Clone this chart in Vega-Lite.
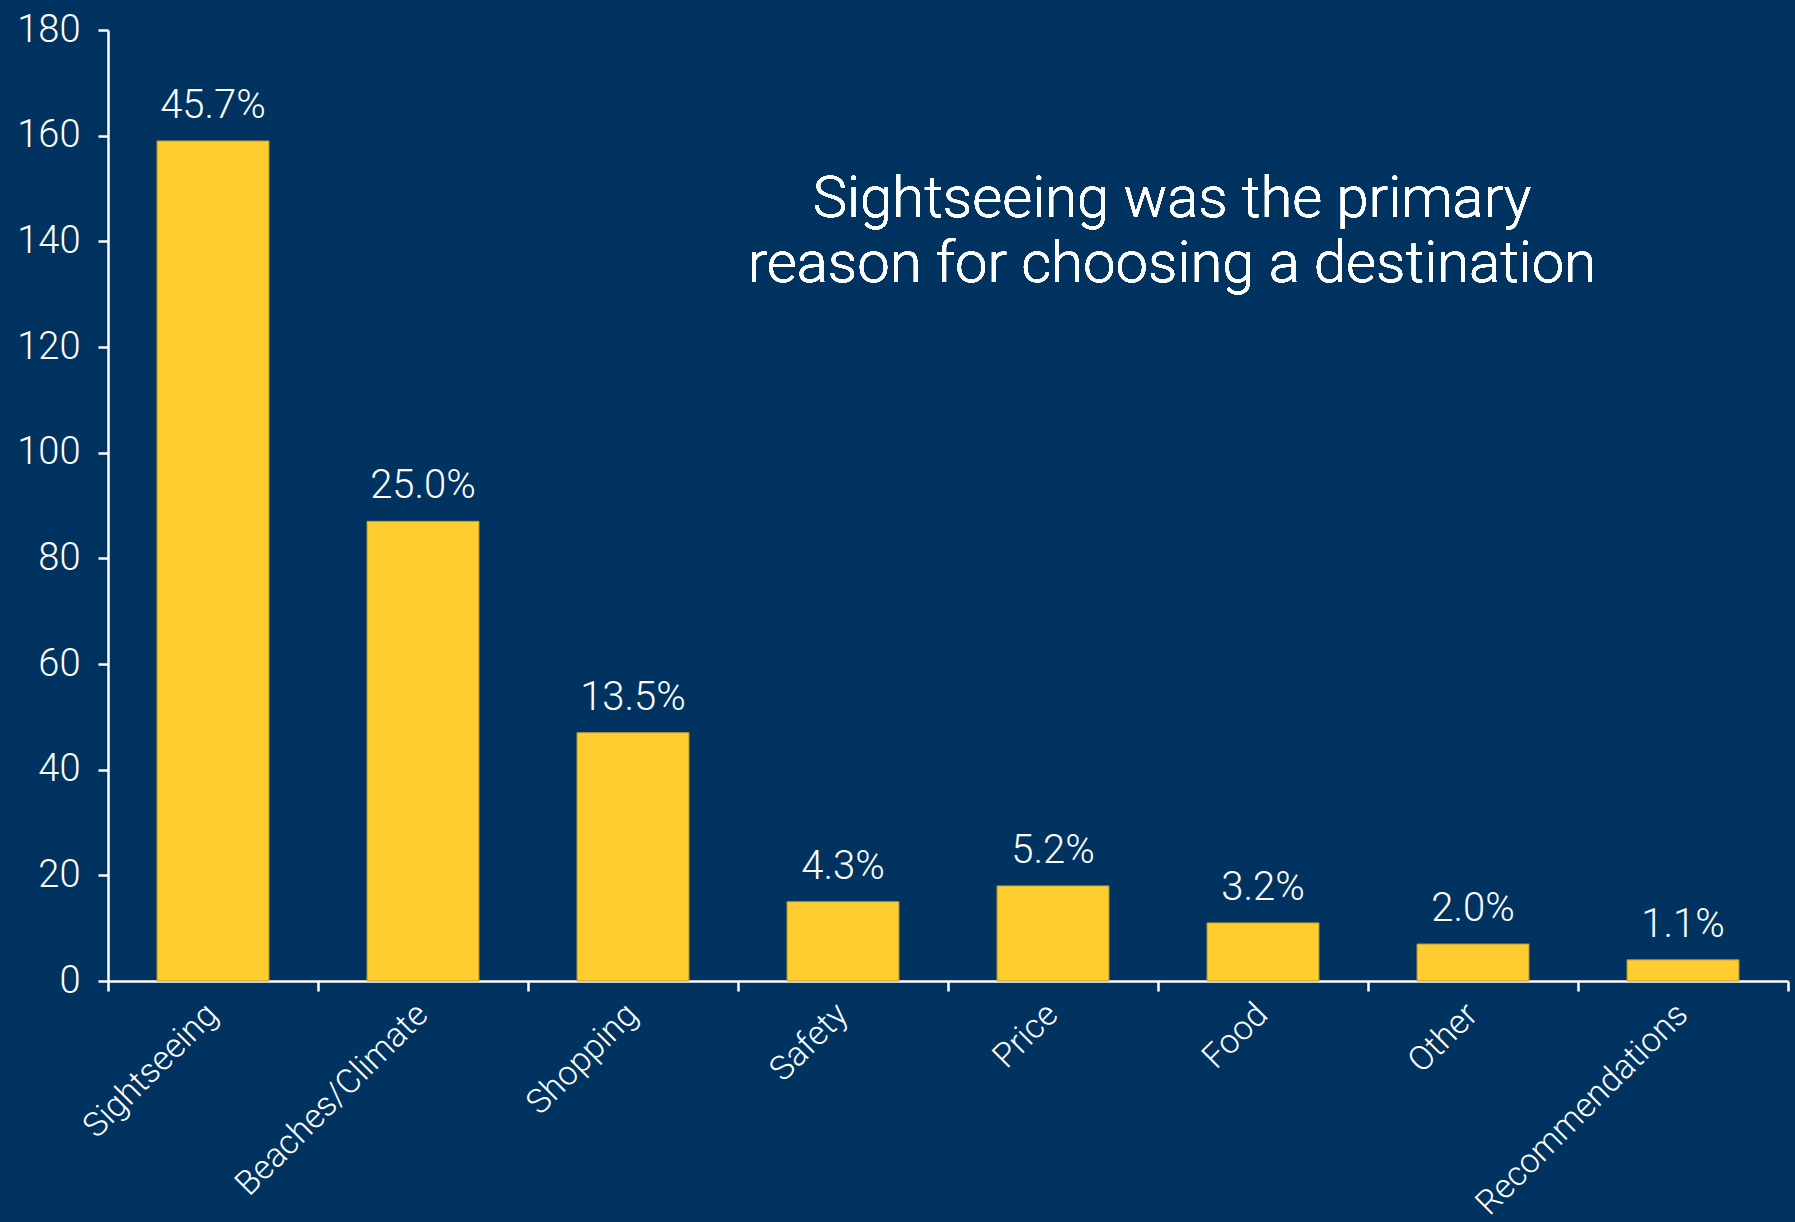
{
  "$schema": "https://vega.github.io/schema/vega-lite/v6.json",
  "width": 1680,
  "height": 951,
  "autosize": {"type": "none"},
  "padding": {"left": 108, "top": 30, "right": 7, "bottom": 241},
  "background": "#003360",
  "config": {"view": {"stroke": null}, "font": "Roboto"},
  "data": {
    "values": [
      {"reason": "Sightseeing", "count": 159, "pct": "45.7%"},
      {"reason": "Beaches/Climate", "count": 87, "pct": "25.0%"},
      {"reason": "Shopping", "count": 47, "pct": "13.5%"},
      {"reason": "Safety", "count": 15, "pct": "4.3%"},
      {"reason": "Price", "count": 18, "pct": "5.2%"},
      {"reason": "Food", "count": 11, "pct": "3.2%"},
      {"reason": "Other", "count": 7, "pct": "2.0%"},
      {"reason": "Recommendations", "count": 4, "pct": "1.1%"}
    ]
  },
  "encoding": {
    "x": {
      "field": "reason",
      "type": "nominal",
      "sort": null,
      "title": null,
      "scale": {"paddingInner": 0, "paddingOuter": 0},
      "axis": {
        "domainColor": "white",
        "domainWidth": 2.5,
        "tickColor": "white",
        "tickWidth": 2.5,
        "tickSize": 10,
        "tickBand": "extent",
        "labelAngle": -45,
        "labelColor": "white",
        "labelFont": "Roboto",
        "labelFontWeight": 300,
        "labelFontSize": 34,
        "labelPadding": 6,
        "labelOffset": -13,
        "labelLimit": 500
      }
    }
  },
  "layer": [
    {
      "mark": {"type": "bar", "color": "#FFCD2F", "stroke": "#B89B3A", "strokeWidth": 1, "width": {"band": 0.533}},
      "encoding": {
        "y": {
          "field": "count",
          "type": "quantitative",
          "title": null,
          "scale": {"domain": [0, 180], "nice": false},
          "axis": {
            "values": [0, 20, 40, 60, 80, 100, 120, 140, 160, 180],
            "grid": false,
            "domainColor": "white",
            "domainWidth": 2.5,
            "tickColor": "white",
            "tickWidth": 2.5,
            "tickSize": 10,
            "labelColor": "white",
            "labelFont": "Roboto",
            "labelFontWeight": 300,
            "labelFontSize": 38,
            "labelPadding": 18
          }
        }
      }
    },
    {
      "mark": {"type": "text", "color": "white", "font": "Roboto", "fontWeight": 300, "fontSize": 40, "baseline": "alphabetic", "dy": -23},
      "encoding": {
        "y": {"field": "count", "type": "quantitative"},
        "text": {"field": "pct", "type": "nominal"}
      }
    },
    {
      "mark": {"type": "text", "color": "white", "font": "Roboto", "fontWeight": 300, "fontSize": 58, "lineHeight": 65, "align": "center", "baseline": "alphabetic", "dx": -91},
      "encoding": {
        "x": {"datum": "Food"},
        "y": {"datum": 144.6},
        "text": {"value": ["Sightseeing was the primary", "reason for choosing a destination"]}
      }
    }
  ]
}
